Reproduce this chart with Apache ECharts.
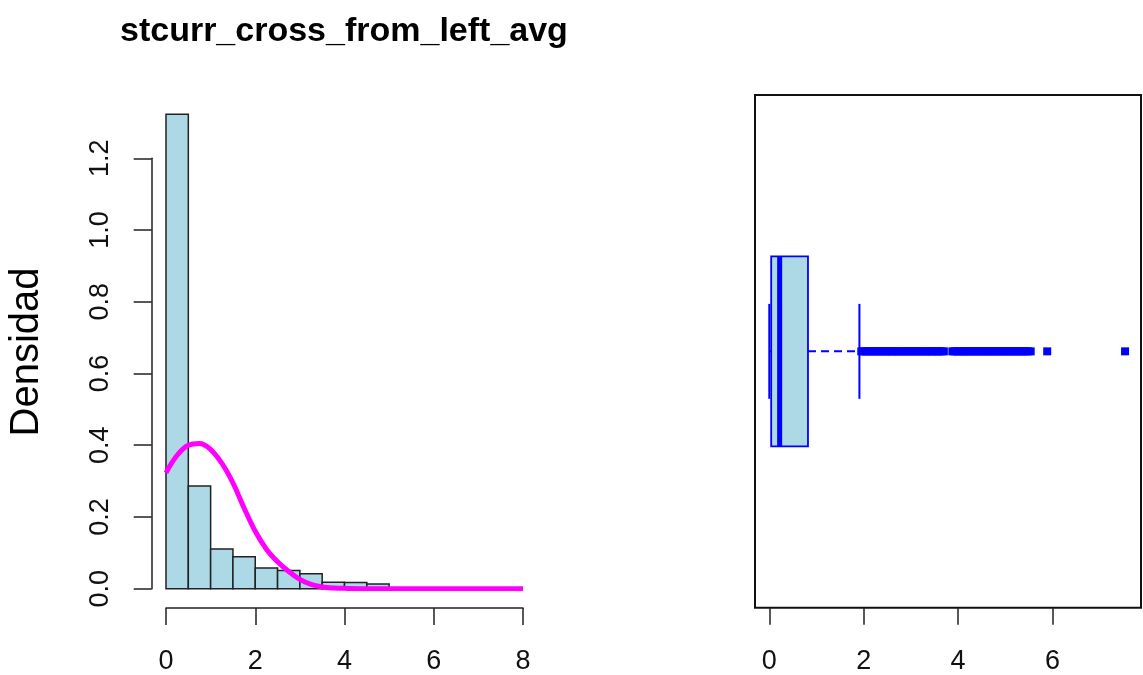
<!DOCTYPE html>
<html>
<head>
<meta charset="utf-8">
<script src="https://cdn.jsdelivr.net/npm/echarts@6/dist/echarts.min.js"></script>
<style>
html,body{margin:0;padding:0;background:#fff;}
#chart{width:1143px;height:675px;}
</style>
</head>
<body>
<div id="chart"></div>
<script>
// ---- Data ----
var chartTitle = 'stcurr_cross_from_left_avg';
var yLabel = 'Densidad';
// histogram bins (start, end) and density
var binStart = [0, 0.5, 1.0, 1.5, 2.0, 2.5, 3.0, 3.5, 4.0, 4.5];
var binEnd   = [0.5, 1.0, 1.5, 2.0, 2.5, 3.0, 3.5, 4.0, 4.5, 5.0];
var density  = [1.323, 0.286, 0.111, 0.089, 0.058, 0.051, 0.042, 0.018, 0.017, 0.013];
// normal density curve overlay
var curveX = [0, 0.25, 0.5, 0.75, 1.0, 1.25, 1.5, 1.75, 2.0, 2.25, 2.5, 2.75, 3.0, 3.25, 3.5, 3.75, 4.0, 5, 6, 7, 8];
var curveY = [0.323, 0.372, 0.400, 0.405, 0.388, 0.350, 0.295, 0.225, 0.160, 0.110, 0.075, 0.048, 0.026, 0.012, 0.005, 0.002, 0.001, 0, 0, 0, 0];
// tick labels
var histXTicks = [0, 2, 4, 6, 8];
var histYTicks = [0, 0.2, 0.4, 0.6, 0.8, 1.0, 1.2];
var boxXTicks = [0, 2, 4, 6];
// boxplot statistics: lower whisker, Q1, median, Q3, upper whisker
var boxStats = [0.0, 0.04, 0.22, 0.82, 1.91];
var outliers = [1.95,2.0,2.05,2.1,2.15,2.2,2.25,2.3,2.35,2.4,2.45,2.5,2.55,2.6,2.65,2.7,2.75,2.8,2.85,2.9,2.95,3.0,
                3.05,3.1,3.15,3.2,3.25,3.3,3.35,3.4,3.45,3.5,3.55,3.6,3.65,3.70,
                3.88,3.93,3.98,4.03,4.08,4.13,4.18,4.23,4.28,4.33,4.38,4.43,4.48,4.53,4.58,4.63,4.68,4.73,4.78,4.83,
                4.88,4.93,4.98,5.03,5.08,5.13,5.18,5.23,5.28,5.33,5.38,5.43,5.48,5.54,5.89,7.54];

// ---- Build options ----
var FONT = '"Liberation Sans", Arial, sans-serif';
var histData = binStart.map(function (s, i) { return [s, binEnd[i], density[i]]; });
var curveData = curveX.map(function (x, i) { return [x, curveY[i]]; });
var outlierData = outliers.map(function (v) { return [v, 1]; });

var chart = echarts.init(document.getElementById('chart'), null, {renderer: 'canvas'});

var axisLineStyle = {color: '#222', width: 1.5};
var labelStyle = {color: '#111', fontSize: 27, fontFamily: FONT};

var option = {
  animation: false,
  backgroundColor: '#fff',
  title: {
    text: chartTitle,
    left: 120,
    top: 15,
    padding: 0,
    textStyle: {fontSize: 34, fontWeight: 'bold', fontFamily: FONT, color: '#000'}
  },
  graphic: [{
    type: 'text',
    x: 27,
    y: 352,
    rotation: Math.PI / 2,
    style: {
      text: yLabel,
      fontSize: 40,
      fontFamily: FONT,
      fill: '#000',
      textAlign: 'center',
      textVerticalAlign: 'middle'
    }
  }],
  grid: [
    {left: 166, top: 158.3, width: 357, height: 430.7, containLabel: false},
    {left: 755, top: 95, width: 386, height: 512.7, containLabel: false,
     show: true, borderColor: '#111', borderWidth: 2, backgroundColor: 'transparent'}
  ],
  xAxis: [
    {
      gridIndex: 0, type: 'value', min: 0, max: 8, interval: 2,
      position: 'bottom',
      offset: 19.3,
      axisLine: {show: true, onZero: false, lineStyle: axisLineStyle},
      axisTick: {show: true, length: 17, lineStyle: axisLineStyle},
      axisLabel: Object.assign({margin: 40, customValues: histXTicks}, labelStyle),
      splitLine: {show: false}
    },
    {
      gridIndex: 1, type: 'value', min: -0.303, max: 7.878,
      position: 'bottom',
      axisLine: {show: false, onZero: false},
      axisTick: {show: true, length: 17, lineStyle: axisLineStyle, customValues: boxXTicks},
      axisLabel: Object.assign({margin: 40, customValues: boxXTicks}, labelStyle),
      splitLine: {show: false}
    }
  ],
  yAxis: [
    {
      gridIndex: 0, type: 'value', min: 0, max: 1.2, interval: 0.2,
      position: 'left',
      offset: 14.3,
      axisLine: {show: true, onZero: false, lineStyle: axisLineStyle},
      axisTick: {show: true, length: 18, lineStyle: axisLineStyle},
      axisLabel: Object.assign({margin: 38, rotate: 90, customValues: histYTicks,
        formatter: function (v) { return v.toFixed(1); }}, labelStyle),
      splitLine: {show: false}
    },
    {
      gridIndex: 1, type: 'value', min: 0.46, max: 1.54, show: false,
      axisLine: {onZero: false},
      splitLine: {show: false}
    }
  ],
  series: [
    {
      type: 'custom',
      xAxisIndex: 0, yAxisIndex: 0,
      clip: false,
      data: histData,
      renderItem: function (params, api) {
        var p0 = api.coord([api.value(0), api.value(2)]);
        var p1 = api.coord([api.value(1), 0]);
        return {
          type: 'rect',
          shape: {x: p0[0], y: p0[1], width: p1[0] - p0[0], height: p1[1] - p0[1]},
          style: {fill: '#ADD8E6', stroke: '#222', lineWidth: 1.5}
        };
      },
      z: 2
    },
    {
      type: 'line',
      xAxisIndex: 0, yAxisIndex: 0,
      data: curveData,
      smooth: 0.4,
      showSymbol: false,
      lineStyle: {color: '#FF00FF', width: 5},
      z: 5
    },
    {
      type: 'custom',
      xAxisIndex: 1, yAxisIndex: 1,
      data: [boxStats],
      renderItem: function (params, api) {
        var lo = api.value(0), q1 = api.value(1), med = api.value(2), q3 = api.value(3), hi = api.value(4);
        var bTop = api.coord([q1, 1.2]), bBot = api.coord([q3, 0.8]);
        var mT = api.coord([med, 1.2]), mB = api.coord([med, 0.8]);
        var wq3 = api.coord([q3, 1]), whi = api.coord([hi, 1]);
        var wq1 = api.coord([q1, 1]), wlo = api.coord([lo, 1]);
        var sHiT = api.coord([hi, 1.1]), sHiB = api.coord([hi, 0.9]);
        var sLoT = api.coord([lo, 1.1]), sLoB = api.coord([lo, 0.9]);
        var blue = '#0000FF';
        return {
          type: 'group',
          children: [
            {type: 'line', shape: {x1: wq3[0], y1: wq3[1], x2: whi[0], y2: whi[1]},
             style: {stroke: blue, lineWidth: 2, lineDash: [8, 5]}},
            {type: 'line', shape: {x1: wq1[0], y1: wq1[1], x2: wlo[0], y2: wlo[1]},
             style: {stroke: blue, lineWidth: 2, lineDash: [8, 5]}},
            {type: 'line', shape: {x1: sHiT[0], y1: sHiT[1], x2: sHiB[0], y2: sHiB[1]},
             style: {stroke: blue, lineWidth: 2}},
            {type: 'line', shape: {x1: sLoT[0], y1: sLoT[1], x2: sLoB[0], y2: sLoB[1]},
             style: {stroke: blue, lineWidth: 2}},
            {type: 'rect', shape: {x: bTop[0], y: bTop[1], width: bBot[0] - bTop[0], height: bBot[1] - bTop[1]},
             style: {fill: '#ADD8E6', stroke: blue, lineWidth: 1.8}},
            {type: 'line', shape: {x1: mT[0], y1: mT[1], x2: mB[0], y2: mB[1]},
             style: {stroke: blue, lineWidth: 5}}
          ]
        };
      },
      z: 3
    },
    {
      type: 'scatter',
      xAxisIndex: 1, yAxisIndex: 1,
      data: outlierData,
      symbol: 'rect',
      symbolSize: 8,
      itemStyle: {color: '#0000FF', opacity: 1, borderWidth: 0},
      z: 4
    }
  ]
};
chart.setOption(option);
</script>
</body>
</html>
